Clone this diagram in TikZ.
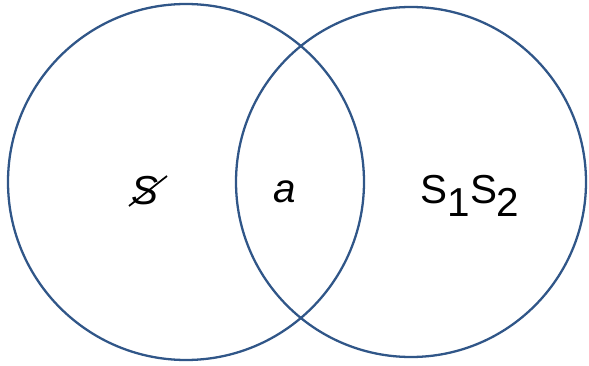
\documentclass[tikz,border=0pt]{standalone}
\usepackage{fontspec}
\setmainfont{Liberation Sans}
\usepackage{xcolor}
\usetikzlibrary{calc}
\definecolor{ringc}{RGB}{48,86,136}
\tikzset{
  ring/.style  = {draw=ringc, circle, line width=1.3pt, inner sep=0pt},
  lbl/.style   = {font=\fontsize{23}{28}\selectfont, inner sep=0pt},
  strike/.style = {line width=1pt, black},
}

\begin{document}
\begin{tikzpicture}[x=1cm, y=1cm]
\useasboundingbox (0,0) rectangle (11.78,7.3);

%% Two overlapping sets
\node[ring, minimum size=7.12cm] (setl) at (3.72,3.66) {};
\node[ring, minimum size=7.0cm]  (setr) at (8.22,3.66) {};

%% Labels
\node[lbl] (sx) at (2.90,3.48) {\itshape S};
\draw[strike] ($(sx.center)+(-0.32,-0.3)$) -- ($(sx.center)+(0.44,0.3)$);
\node[lbl] (ca) at (5.70,3.46) {\itshape a};
\node[lbl] (ss) at (9.40,3.38)
  {S\raisebox{-0.32em}{1}S\raisebox{-0.32em}{2}};

\end{tikzpicture}
\end{document}
